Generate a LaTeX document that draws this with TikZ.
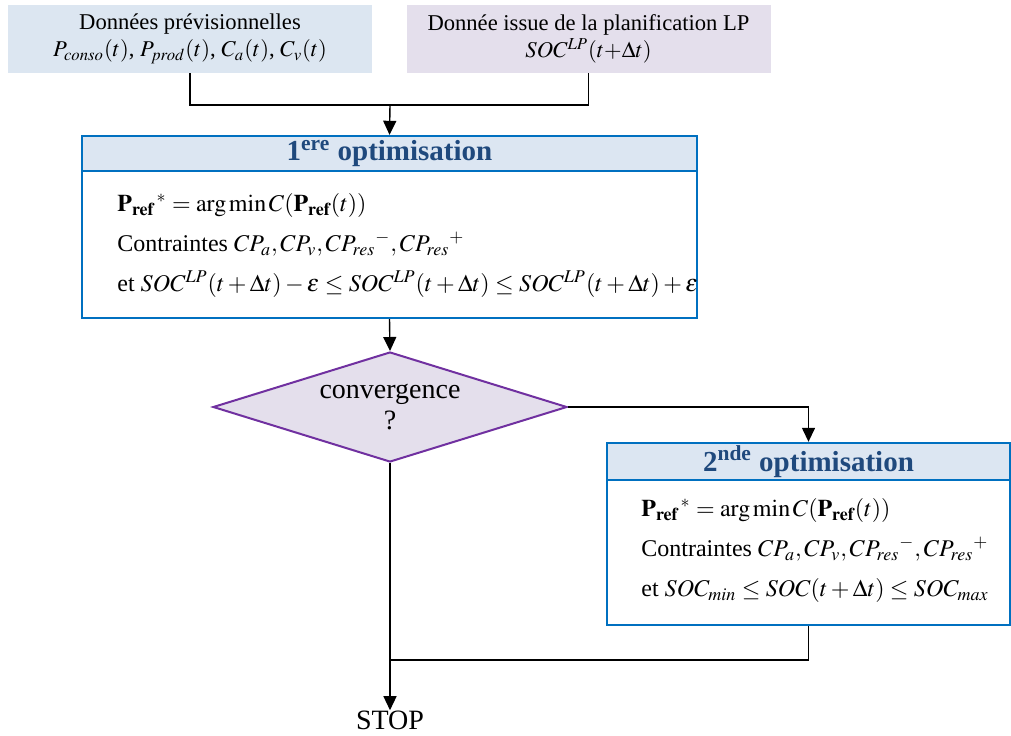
\documentclass[tikz,border=0pt]{standalone}
\usepackage{mathptmx}
\usepackage[no-math]{fontspec}
\setmainfont{Liberation Serif}
\usepackage{xcolor}
\usetikzlibrary{shapes.geometric, arrows.meta, positioning, calc}
\definecolor{srcblue}{RGB}{220,230,241}
\definecolor{srcpurple}{RGB}{228,223,236}
\definecolor{optblue}{RGB}{0,112,192}
\definecolor{headblue}{RGB}{220,230,242}
\definecolor{titleblue}{RGB}{31,73,125}
\definecolor{convpurple}{RGB}{112,48,160}

\newcommand{\Pref}{\mathbf{P}_{\mathbf{ref}}}

\begin{document}
\begin{tikzpicture}[x=0.5pt, y=-0.5pt,
    srcbox/.style={minimum width=182pt, minimum height=34pt, align=center, inner sep=0pt, font=\fontsize{11.3}{13.5}\selectfont},
    frame/.style={draw=optblue, line width=1.2pt, inner sep=0pt},
    head/.style={draw=optblue, line width=1.2pt, fill=headblue, inner sep=0pt, text=titleblue, font=\fontsize{14.5}{16}\selectfont\bfseries},
    body/.style={align=left, anchor=north west, inner sep=0pt, font=\fontsize{12}{20}\selectfont},
    decision/.style={diamond, draw=convpurple, line width=1pt, fill=srcpurple, aspect=3.2, inner sep=0pt, minimum width=177pt, minimum height=55pt, align=center, font=\fontsize{14}{17.5}\selectfont},
    line/.style={line width=0.7pt},
    arrow/.style={->, line width=0.7pt, >={Triangle[length=7pt, width=6.5pt]}}
]
    \useasboundingbox (0,0) rectangle (1011,735);

    % donnees d'entree
    \node[srcbox, fill=srcblue] (prev) at (190,39) {Données prévisionnelles\\$P_{conso}(t)$, $P_{prod}(t)$, $C_a(t)$, $C_v(t)$};
    \node[srcbox, fill=srcpurple] (plan) at (588.5,39) {Donnée issue de la planification LP\\$SOC^{LP}(t{+}\Delta t)$};
    \coordinate (join) at (390,105);

    % 1ere optimisation
    \node[frame, minimum width=307.5pt, minimum height=91pt] (opt1) at (389.5,227) {};
    \node[head, minimum width=307.5pt, minimum height=17.5pt] (opt1head) at (389.5,153.5) {1\textsuperscript{ere} optimisation};
    \node[body] (opt1body) at (117,193) {%
        ${\Pref}^{\,*} = \arg\min C(\Pref(t))$\\
        Contraintes $CP_a, CP_v, CP_{res}{}^{-}, CP_{res}{}^{+}$\\
        et $SOC^{LP}(t+\Delta t) - \varepsilon \le SOC^{LP}(t+\Delta t) \le SOC^{LP}(t+\Delta t) + \varepsilon$};

    % test de convergence
    \node[decision] (conv) at (390,407) {\raisebox{-2pt}{convergence}\\?};

    % 2nde optimisation
    \node[frame, minimum width=201.5pt, minimum height=91pt] (opt2) at (808.5,534) {};
    \node[head, minimum width=201.5pt, minimum height=18.5pt] (opt2head) at (808.5,461.5) {2\textsuperscript{nde} optimisation};
    \node[body] (opt2body) at (641,498) {%
        ${\Pref}^{\,*} = \arg\min C(\Pref(t))$\\
        Contraintes $CP_a, CP_v, CP_{res}{}^{-}, CP_{res}{}^{+}$\\
        et $SOC_{min} \le SOC(t+\Delta t) \le SOC_{max}$};

    \coordinate (merge) at (390,660);
    \node[inner sep=0pt, font=\fontsize{14}{17}\selectfont] (stop) at (390,720) {STOP};

    \draw[line] (prev.south) |- (join);
    \draw[line] (plan.south) |- (join);
    \draw[arrow] (join) -- (opt1.north);
    \draw[arrow] (opt1.south) -- (conv.north);
    \draw[arrow] (conv.east) -| (opt2.north);
    \draw[line] (opt2.south) |- (merge);
    \draw[arrow] (conv.south) -- (stop.north);
\end{tikzpicture}
\end{document}
